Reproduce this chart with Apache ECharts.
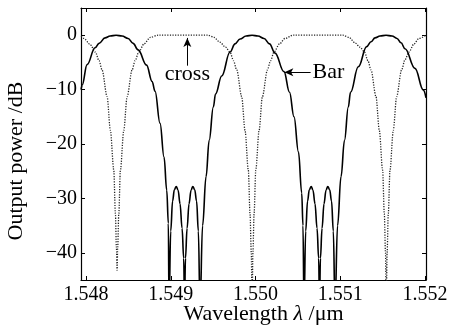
<!DOCTYPE html>
<html><head><meta charset="utf-8">
<script src="https://cdn.jsdelivr.net/npm/echarts@6/dist/echarts.min.js"></script>
<style>html,body{margin:0;padding:0;background:#fff}#c{width:456px;height:328px}</style>
</head><body><div id="c"></div>
<script>
// ---- data ----
const barWl = [1.547941,1.547953,1.548012,1.548106,1.548153,1.548224,1.548283,1.548354,1.548425,1.548496,1.548555,1.548614,1.548714,1.548779,1.548814,1.548873,1.548920,1.548952,1.548971,1.548979,
  1.548999,1.549021,1.549042,1.549064,1.549086,1.549109,1.549133,1.549152,1.549162,1.549173,1.549192,1.549215,1.549239,1.549260,1.549282,1.549304,1.549325,1.549345,
  1.549375,1.549416,1.549453,1.549502,1.549528,1.549601,1.549699,1.549758,1.549817,1.549888,1.549959,1.550029,1.550100,1.550165,1.550230,1.550336,1.550401,1.550454,1.550507,1.550545,1.550560,1.550572,
  1.550592,1.550614,1.550635,1.550657,1.550678,1.550702,1.550726,1.550745,1.550755,1.550766,1.550785,1.550808,1.550832,1.550853,1.550875,1.550897,1.550918,1.550938,
  1.550968,1.551009,1.551050,1.551095,1.551121,1.551213,1.551312,1.551363,1.551410,1.551469,1.551540,1.551611,1.551670,1.551717,1.551764,1.551882,1.551981,1.552012];
const barDb = [-10.0,-9.2,-5.4,-2.3,-1.5,-0.5,-0.15,0,-0.15,-0.6,-1.5,-2.7,-5.5,-8.5,-10.3,-16.2,-22.4,-28.5,-34.6,-50,
  -36,-30.5,-28.4,-27.8,-28.5,-31,-35.5,-41,-50,-41,-35.5,-31,-28.5,-27.8,-28.4,-30.5,-36,-50,
  -35,-26,-19.3,-13.2,-10.8,-7.5,-3.1,-1.6,-0.7,-0.15,0,-0.15,-0.6,-1.6,-3.3,-6.7,-10.5,-15,-21.5,-29,-35,-50,
  -36,-30.5,-28.4,-27.8,-28.5,-31,-35.5,-41,-50,-41,-35.5,-31,-28.5,-27.8,-28.4,-30.5,-36,-50,
  -35,-26,-19.3,-13.2,-10.5,-5.8,-2.1,-1.2,-0.5,-0.15,0,-0.15,-0.6,-1.4,-2.5,-6.1,-10.1,-11.5];
const crossWl = [1.547941,1.547976,1.548047,1.548110,1.548153,1.548189,1.548248,1.548287,1.548327,1.548346,1.548358,1.548366,1.548373,1.548386,1.548405,1.548445,1.548484,1.548543,1.548578,1.548622,1.548684,1.548759,1.548850,
  1.549440,1.549510,1.549581,1.549646,1.549699,1.549740,1.549778,1.549837,1.549876,1.549915,1.549935,1.549950,1.549959,1.549969,1.549983,1.550003,1.550042,1.550081,1.550140,1.550177,1.550218,1.550283,1.550348,1.550442,
  1.551032,1.551103,1.551174,1.551233,1.551286,1.551327,1.551363,1.551422,1.551461,1.551500,1.551520,1.551534,1.551543,1.551553,1.551567,1.551587,1.551626,1.551665,1.551724,1.551764,1.551811,1.551870,1.551929,1.552012];
const crossDb = [-0.2,-0.6,-1.7,-3.1,-4.7,-6.4,-11.3,-17.5,-24.8,-32.8,-39,-43.2,-39,-32.8,-24.8,-17.5,-11.3,-6.4,-4.7,-3.1,-1.6,-0.4,0,
  0,-0.4,-1.3,-2.2,-3.1,-4.7,-6.4,-11.3,-17.5,-24.8,-32.8,-40,-50,-40,-32.8,-24.8,-17.5,-11.3,-6.4,-4.7,-3.1,-1.6,-0.6,0,
  0,-0.4,-1.4,-2.2,-3.1,-4.7,-6.4,-11.3,-17.5,-24.8,-32.8,-40,-50,-40,-32.8,-24.8,-17.5,-11.3,-6.4,-4.5,-3.1,-1.6,-0.6,0];
const wlTicks = [1.548, 1.549, 1.550, 1.551, 1.552];
const dbTicks = [-40, -30, -20, -10, 0];
const wlRange = [1.54794, 1.552012];
const dbRange = [-45, 5];
// annotations: label text, text position, arrow from, arrow to (data units)
const crossNote = {text: 'cross', at: [1.549195, -7.2], from: [1.549195, -5.6], to: [1.549195, -0.5]};
const barNote = {text: 'Bar', at: [1.550860, -6.8], from: [1.550650, -6.8], to: [1.550340, -6.8]};

const font = 'Liberation Serif';
const pairs = (xs, ys) => xs.map((x, i) => [x, ys[i]]);
const fmtDb = v => v < 0 ? '\u2212' + Math.abs(v) : String(v);

const chart = echarts.init(document.getElementById('c'), null, {renderer: 'canvas'});
const baseX = {
  type: 'value', min: wlRange[0], max: wlRange[1],
  axisLine: {show: true, onZero: false, lineStyle: {color: '#000', width: 1.2}},
  splitLine: {show: false},
  axisTick: {show: true, inside: true, length: 4, customValues: wlTicks, lineStyle: {color: '#000'}}
};
const baseY = {
  type: 'value', min: dbRange[0], max: dbRange[1],
  axisLine: {show: true, onZero: false, lineStyle: {color: '#000', width: 1.2}},
  splitLine: {show: false},
  axisTick: {show: true, inside: true, length: 4, customValues: dbTicks, lineStyle: {color: '#000'}}
};
chart.setOption({
  animation: false,
  backgroundColor: '#fff',
  grid: {left: 81, right: 30, top: 8, bottom: 48, containLabel: false, outerBoundsMode: 'none'},
  xAxis: [
    Object.assign({}, baseX, {position: 'bottom',
      axisLabel: {customValues: wlTicks, formatter: v => v.toFixed(3), color: '#000', fontFamily: font, fontSize: 20, margin: 5},
      name: '{n|Wavelength }{i|\u03bb}{n| /\u03bcm}', nameLocation: 'middle', nameGap: 23, nameMoveOverlap: false,
      nameTextStyle: {padding: [0, 0, 0, 20], rich: {n: {fontFamily: font, fontSize: 22, color: '#000'}, i: {fontFamily: font, fontSize: 22, fontStyle: 'italic', color: '#000'}}}}),
    Object.assign({}, baseX, {position: 'top', axisLabel: {show: false}})
  ],
  yAxis: [
    Object.assign({}, baseY, {position: 'left',
      axisLabel: {customValues: dbTicks, formatter: fmtDb, color: '#000', fontFamily: font, fontSize: 20, margin: 4},
      name: 'Output power /dB', nameLocation: 'middle', nameGap: 54, nameMoveOverlap: false,
      nameTextStyle: {fontFamily: font, fontSize: 22, color: '#000', padding: [0, 34, 0, 0]}}),
    Object.assign({}, baseY, {position: 'right', axisLabel: {show: false}})
  ],
  series: [
    {name: 'cross', type: 'line', data: pairs(crossWl, crossDb), showSymbol: false, smooth: 0.3, smoothMonotone: 'x', clip: true,
     lineStyle: {color: '#222', width: 1.3, type: [1.2, 1.4]}},
    {name: 'Bar', type: 'line', data: pairs(barWl, barDb), showSymbol: false, smooth: 0.4, smoothMonotone: 'x', clip: true,
     lineStyle: {color: '#000', width: 1.6},
     markLine: {silent: true, symbol: ['none', 'arrow'], symbolSize: [6, 9], animation: false,
       lineStyle: {color: '#000', width: 1, type: 'solid'}, label: {show: false},
       data: [[{coord: crossNote.from}, {coord: crossNote.to}], [{coord: barNote.from}, {coord: barNote.to}]]},
     markPoint: {silent: true, symbol: 'circle', symbolSize: 0, animation: false,
       label: {show: true, position: 'inside', fontFamily: font, fontSize: 22, color: '#000', formatter: p => p.name},
       data: [{name: crossNote.text, coord: crossNote.at}, {name: barNote.text, coord: barNote.at}]}}
  ]
});
</script></body></html>
